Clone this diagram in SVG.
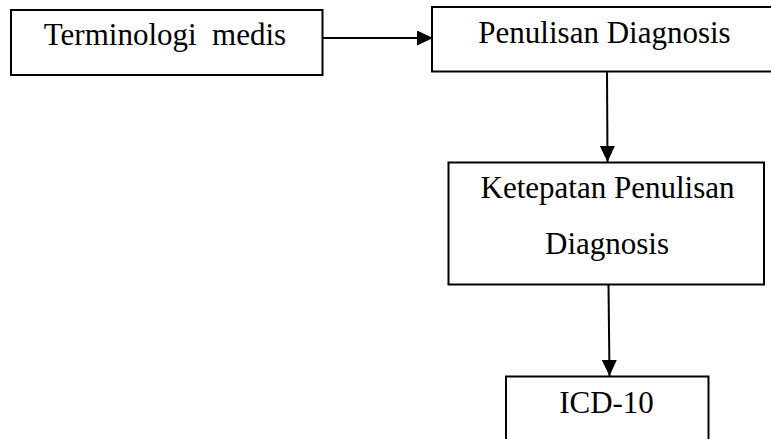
<svg xmlns="http://www.w3.org/2000/svg" width="771" height="439" viewBox="0 0 771 439">
<style>
.box{fill:#fff;stroke:#000;stroke-width:2}
.lbl{font-family:"Liberation Serif","Times New Roman",serif;font-size:31px;fill:#000;text-anchor:middle}
.conn{stroke:#000;stroke-width:2;fill:none}
</style>
<defs>
<marker id="ah" viewBox="0 0 16 15" refX="16" refY="7.5" markerWidth="16" markerHeight="15" orient="auto" markerUnits="userSpaceOnUse">
<path d="M0,0 L16,7.5 L0,15 Z" fill="#000"/>
</marker>
</defs>
<rect width="771" height="439" fill="#fff"/>
<g id="connectors">
<line class="conn" x1="323" y1="38" x2="433" y2="38" marker-end="url(#ah)"/>
<line class="conn" x1="607" y1="72" x2="607.5" y2="162" marker-end="url(#ah)"/>
<line class="conn" x1="608.5" y1="285" x2="609.5" y2="376" marker-end="url(#ah)"/>
</g>
<g id="node-terminologi">
<rect class="box" x="11" y="10" width="311.5" height="65"/>
<text class="lbl" x="165" y="45" xml:space="preserve">Terminologi  medis</text>
</g>
<g id="node-penulisan">
<rect class="box" x="432" y="7" width="342" height="64.5"/>
<text class="lbl" x="604.5" y="43">Penulisan Diagnosis</text>
</g>
<g id="node-ketepatan">
<rect class="box" x="448.5" y="162.5" width="315.5" height="122"/>
<text class="lbl" x="607.5" y="198">Ketepatan Penulisan</text>
<text class="lbl" x="607" y="254">Diagnosis</text>
</g>
<g id="node-icd">
<rect class="box" x="506" y="376.5" width="202.5" height="70"/>
<text class="lbl" x="606.5" y="413">ICD-10</text>
</g>
</svg>
